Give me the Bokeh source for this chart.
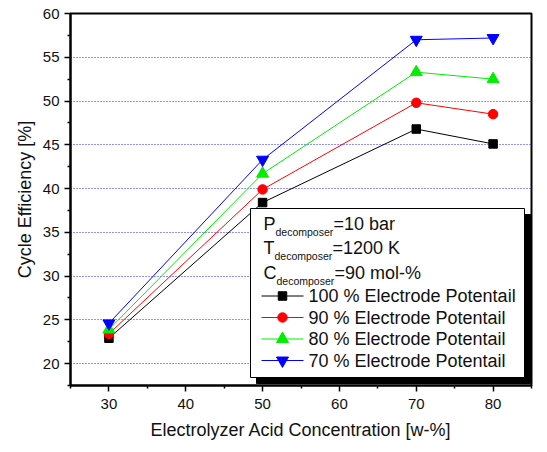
from bokeh.plotting import figure
from bokeh.models import Label, Range1d, FixedTicker
from bokeh.embed import file_html
from bokeh.resources import INLINE

# ---- data ----
acid_conc = [30, 50, 70, 80]
eff_100 = [22.9, 38.4, 46.8, 45.1]
eff_90 = [23.4, 39.9, 49.8, 48.5]
eff_80 = [23.9, 41.7, 53.3, 52.5]
eff_70 = [24.6, 43.3, 57.0, 57.2]
series_labels = ["100 % Electrode Potentail", "90 % Electrode Potentail",
                 "80 % Electrode Potentail", "70 % Electrode Potentail"]
x_ticks = [30, 40, 50, 60, 70, 80]
y_ticks = [20, 25, 30, 35, 40, 45, 50, 55, 60]

FONT = "Liberation Sans"
W, H = 539, 444
BL, BR, BT, BB = 70, 8, 13, 59
X0, X1, Y0, Y1 = 25, 85, 17.5, 60

p = figure(width=W, height=H, output_backend="svg", toolbar_location=None,
           x_range=Range1d(X0, X1), y_range=Range1d(Y0, Y1),
           min_border_left=BL, min_border_right=BR, min_border_top=BT, min_border_bottom=BB)
p.background_fill_color = "white"
p.border_fill_color = "white"
p.outline_line_color = "black"
p.outline_line_width = 2

for ax in (p.xaxis[0], p.yaxis[0]):
    ax.axis_line_width = 2
    ax.axis_line_color = "black"
    ax.major_tick_line_width = 1.5
    ax.minor_tick_line_width = 1.5
    ax.major_tick_out = 6
    ax.major_tick_in = 0
    ax.minor_tick_out = 3
    ax.minor_tick_in = 0
    ax.major_label_text_font = FONT
    ax.major_label_text_font_size = "15px"
    ax.major_label_text_color = "#111111"
    ax.axis_label_text_font = FONT
    ax.axis_label_text_font_size = "18px"
    ax.axis_label_text_font_style = "normal"
    ax.axis_label_text_color = "#111111"

p.xaxis[0].ticker = FixedTicker(ticks=x_ticks, minor_ticks=[25, 35, 45, 55, 65, 75, 85])
p.yaxis[0].ticker = FixedTicker(ticks=y_ticks, minor_ticks=[17.5, 22.5, 27.5, 32.5, 37.5, 42.5, 47.5, 52.5, 57.5])
p.xaxis[0].axis_label = "Electrolyzer Acid Concentration [w-%]"
p.yaxis[0].axis_label = "Cycle Efficiency [%]"
p.xaxis[0].major_label_standoff = 7
p.yaxis[0].major_label_standoff = 5
p.xaxis[0].axis_label_standoff = 8
p.yaxis[0].axis_label_standoff = 5

p.xgrid.grid_line_color = None
p.ygrid.ticker = FixedTicker(ticks=[20, 25, 30, 35, 40, 45, 50, 55])
p.ygrid.grid_line_color = "#2222ff"
p.ygrid.grid_line_dash = "1 2"
p.ygrid.grid_line_width = 1

colors = ["#000000", "#ff0000", "#00ee00", "#0000ff"]
markers = ["square", "circle", "triangle", "inverted_triangle"]
sizes = [8.5, 9.5, 12, 12]
all_series = [eff_100, eff_90, eff_80, eff_70]

for ys, c, m, s in zip(all_series, colors, markers, sizes):
    p.line(acid_conc, ys, line_color=c, line_width=1)
    p.scatter(acid_conc, ys, marker=m, size=s, fill_color=c, line_color=c)

# ---- pixel helpers (canvas px -> data) for the legend layout ----
fw = W - BL - BR
fh = H - BT - BB
def px_x(px):
    return X0 + (px - BL) * (X1 - X0) / fw
def px_y(py):
    return Y1 - (py - BT) * (Y1 - Y0) / fh

# legend box with shadow, drawn as glyphs on top of the data
box_l, box_t, box_w, box_h, sh = 250, 208, 274, 169, 6
box_r, box_b = box_l + box_w, box_t + box_h
p.quad(left=[px_x(box_l + sh)], right=[px_x(box_r + sh)], top=[px_y(box_t + sh)],
       bottom=[px_y(box_b + sh)], fill_color="black", line_color="black")
p.quad(left=[px_x(box_l)], right=[px_x(box_r)], top=[px_y(box_t)], bottom=[px_y(box_b)],
       fill_color="white", line_color="black", line_width=1)

header = [("P", "=10 bar"), ("T", "=1200 K"), ("C", "=90 mol-%")]
hdr_mid = [15, 39, 64]
hdr_w = {"P": 12.0, "T": 11.0, "C": 13.0}
for (letter, rest), m_ in zip(header, hdr_mid):
    x0 = box_l + 13
    ym = box_t + m_
    p.add_layout(Label(x=px_x(x0), y=px_y(ym), text=letter, text_font=FONT, text_font_size="18px",
                       text_baseline="middle", text_color="#111111"))
    p.add_layout(Label(x=px_x(x0 + hdr_w[letter]), y=px_y(ym + 8.5), text="decomposer", text_font=FONT,
                       text_font_size="10.5px", text_baseline="middle", text_color="#111111"))
    p.add_layout(Label(x=px_x(x0 + hdr_w[letter] + 58), y=px_y(ym), text=rest, text_font=FONT,
                       text_font_size="18px", text_baseline="middle", text_color="#111111"))

entry_mid = [87.5, 109, 130.5, 152]
for lab, c, m, s, em in zip(series_labels, colors, markers, sizes, entry_mid):
    yc = px_y(box_t + em)
    p.line([px_x(box_l + 11), px_x(box_l + 53)], [yc, yc], line_color=c, line_width=1)
    p.scatter([px_x(box_l + 32)], [yc], marker=m, size=s, fill_color=c, line_color=c)
    p.add_layout(Label(x=px_x(box_l + 58), y=yc, text=lab, text_font=FONT, text_font_size="18px",
                       text_baseline="middle", text_color="#111111"))

open("out.html", "w").write(file_html(p, INLINE))
